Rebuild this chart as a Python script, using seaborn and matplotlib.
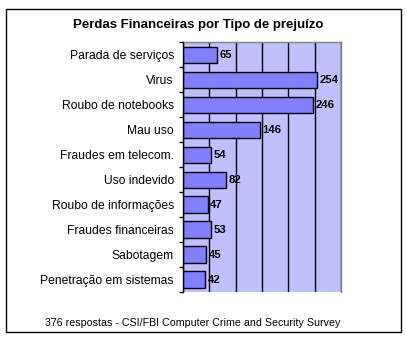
import matplotlib
matplotlib.use("Agg")
import matplotlib.pyplot as plt
import seaborn as sns
import pandas as pd
from matplotlib.patches import Rectangle
from matplotlib.ticker import MultipleLocator, FixedLocator

categories = ["Parada de serviços", "Virus", "Roubo de notebooks", "Mau uso",
              "Fraudes em telecom.", "Uso indevido", "Roubo de informações",
              "Fraudes financeiras", "Sabotagem", "Penetração em sistemas"]
values = [65, 254, 246, 146, 54, 82, 47, 53, 45, 42]
title = "Perdas Financeiras por Tipo de prejuízo"
footer = "376 respostas - CSI/FBI Computer Crime and Security Survey"

sns.set_theme(style="white")
plt.rcParams['font.family'] = ['Liberation Sans', 'DejaVu Sans']

df = pd.DataFrame({"cat": categories, "val": values})

fig = plt.figure(figsize=(4.07, 3.40), dpi=100)
W, H = 407, 340
ax = fig.add_axes([182.7 / W, 1 - 292 / H, (341.3 - 182.7) / W, (292 - 42.3) / H])
ax.set_facecolor("#C0C0FF")

sns.barplot(data=df, x="val", y="cat", orient="h", color="#8080FF",
            edgecolor="black", linewidth=1.0, width=0.65, saturation=1,
            ax=ax, zorder=3)

ax.set_xlim(0, 300)
ax.set_ylim(len(categories) - 0.5, -0.5)
ax.xaxis.set_major_locator(MultipleLocator(50))
ax.grid(axis="x", color="black", linewidth=1.0, zorder=1)
ax.set_axisbelow(True)
ax.set_xticklabels([])
ax.tick_params(axis="x", length=0)
ax.set_xlabel("")
ax.set_ylabel("")

ax.yaxis.set_minor_locator(FixedLocator([i - 0.5 for i in range(len(categories) + 1)]))
ax.tick_params(axis="y", which="major", length=0, pad=6.3, labelsize=8.7, colors="black")
ax.tick_params(axis="y", which="minor", length=3, width=1, color="black", left=True)

for s in ["top", "right"]:
    ax.spines[s].set_color("#808080")
    ax.spines[s].set_linewidth(1.0)
ax.spines["bottom"].set_visible(False)
ax.spines["left"].set_color("black")
ax.spines["left"].set_linewidth(1.0)
ax.spines["left"].set_zorder(5)

for i, v in enumerate(values):
    ax.text(v + 5, i, str(v), va="center", ha="left", fontsize=8.2,
            fontweight="bold", color="black", zorder=6)

fig.text(198 / W, 1 - 25 / H, title, ha="center", va="center", fontsize=9.5,
         fontweight="bold", color="black")
fig.text(193 / W, 1 - 323 / H, footer, ha="center", va="center", fontsize=7.7,
         color="black")

fig.patches.append(Rectangle((5.5 / W, 1 - 332 / H), (401 - 5.5) / W, (332 - 8.7) / H,
                             transform=fig.transFigure, fill=False,
                             edgecolor="black", linewidth=1.0))

fig.savefig("out.png", dpi=100)
